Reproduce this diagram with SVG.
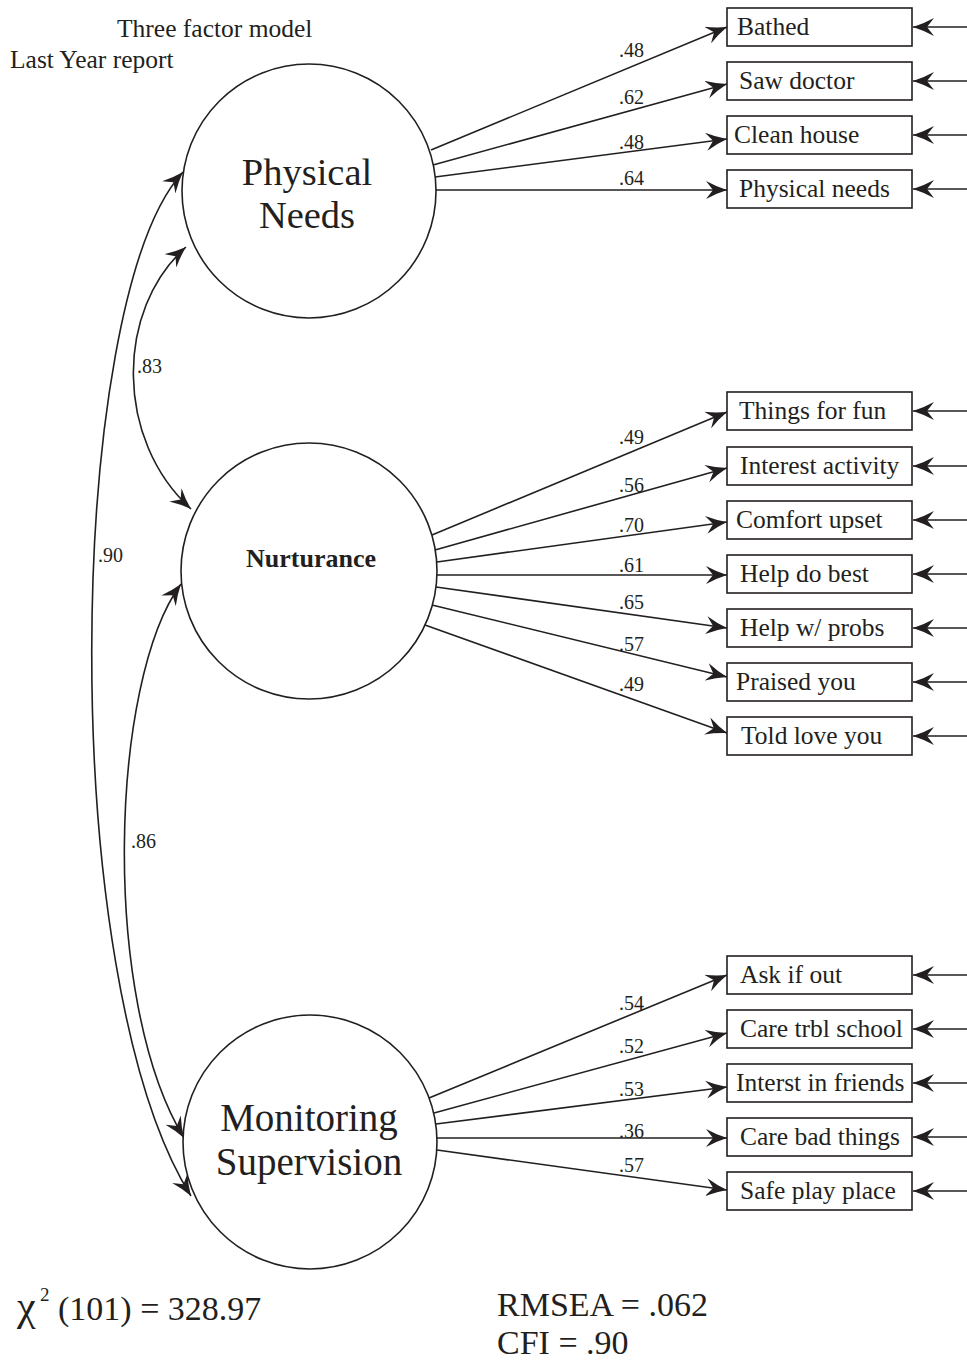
<svg xmlns="http://www.w3.org/2000/svg" width="967" height="1363" viewBox="0 0 967 1363">
<style>
text{font-family:"Liberation Serif","Times New Roman",serif;fill:#231f20}
.t{font-size:25.5px}
.lab{font-size:20px}
.big{font-size:38.5px}
.fit{font-size:34px}
.c{fill:#fff;stroke:#231f20;stroke-width:1.6}
.b{fill:#fff;stroke:#231f20;stroke-width:1.6}
.l{fill:none;stroke:#231f20;stroke-width:1.6;marker-end:url(#ah)}
.d{fill:none;stroke:#231f20;stroke-width:1.6;marker-start:url(#ah);marker-end:url(#ah)}
</style>
<defs>
<marker id="ah" viewBox="0 0 21 18" refX="21" refY="9" markerWidth="21" markerHeight="18" markerUnits="userSpaceOnUse" orient="auto-start-reverse">
<path d="M0,0 Q10,5.5 21,9 Q10,12.5 0,18 L7,9 Z" fill="#231f20"/>
</marker>
</defs>
<rect width="967" height="1363" fill="#fff"/>
<g id="title">
<text class="t" x="117" y="37">Three factor model</text>
<text class="t" x="10" y="68">Last Year report</text>
</g>
<g id="connectors">
<path class="l" d="M431,150 L727,27"/>
<path class="l" d="M433,165 L727,84"/>
<path class="l" d="M435,177 L727,139"/>
<path class="l" d="M436,190 L727,190"/>
<path class="l" d="M432,535 L727,412"/>
<path class="l" d="M435,550 L727,468"/>
<path class="l" d="M437,562 L727,522"/>
<path class="l" d="M437,575 L727,575"/>
<path class="l" d="M436,587 L727,628"/>
<path class="l" d="M432,605 L727,677"/>
<path class="l" d="M425,625 L727,733"/>
<path class="l" d="M429,1098 L727,975"/>
<path class="l" d="M434,1113 L727,1033"/>
<path class="l" d="M436,1124 L727,1087"/>
<path class="l" d="M437,1138 L727,1138"/>
<path class="l" d="M437,1150 L727,1190"/>
<path class="l" d="M967,27 L913,27"/>
<path class="l" d="M967,81 L913,81"/>
<path class="l" d="M967,135 L913,135"/>
<path class="l" d="M967,189 L913,189"/>
<path class="l" d="M967,411 L913,411"/>
<path class="l" d="M967,466 L913,466"/>
<path class="l" d="M967,520 L913,520"/>
<path class="l" d="M967,574 L913,574"/>
<path class="l" d="M967,628 L913,628"/>
<path class="l" d="M967,682 L913,682"/>
<path class="l" d="M967,736 L913,736"/>
<path class="l" d="M967,975 L913,975"/>
<path class="l" d="M967,1029 L913,1029"/>
<path class="l" d="M967,1083 L913,1083"/>
<path class="l" d="M967,1137 L913,1137"/>
<path class="l" d="M967,1191 L913,1191"/>
<path class="d" d="M183,172 C65,300 55,980 191,1196"/>
<path class="d" d="M186,247 C115,310 115,440 191,509"/>
<path class="d" d="M181,584 C110,680 100,1000 184,1138"/>
<text class="lab" x="619" y="57">.48</text>
<text class="lab" x="619" y="104">.62</text>
<text class="lab" x="619" y="149">.48</text>
<text class="lab" x="619" y="185">.64</text>
<text class="lab" x="619" y="444">.49</text>
<text class="lab" x="619" y="492">.56</text>
<text class="lab" x="619" y="532">.70</text>
<text class="lab" x="619" y="572">.61</text>
<text class="lab" x="619" y="609">.65</text>
<text class="lab" x="619" y="651">.57</text>
<text class="lab" x="619" y="691">.49</text>
<text class="lab" x="619" y="1010">.54</text>
<text class="lab" x="619" y="1053">.52</text>
<text class="lab" x="619" y="1096">.53</text>
<text class="lab" x="619" y="1138">.36</text>
<text class="lab" x="619" y="1172">.57</text>
<text class="lab" x="137" y="373">.83</text>
<text class="lab" x="98" y="562">.90</text>
<text class="lab" x="131" y="848">.86</text>
</g>
<g id="physical-needs">
<circle class="c" cx="309" cy="191" r="127"/>
<text class="big" x="307" y="185" text-anchor="middle">Physical</text>
<text class="big" x="307" y="228" text-anchor="middle">Needs</text>
</g>
<g id="nurturance">
<circle class="c" cx="309" cy="571" r="128"/>
<text x="311" y="567" text-anchor="middle" style="font-size:26px;font-weight:bold">Nurturance</text>
</g>
<g id="monitoring-supervision">
<circle class="c" cx="310" cy="1142" r="127"/>
<text x="309" y="1131" text-anchor="middle" style="font-size:39px">Monitoring</text>
<text x="309" y="1175" text-anchor="middle" style="font-size:39px">Supervision</text>
</g>
<g id="bathed"><rect class="b" x="727" y="8" width="185" height="38"/><text class="t" x="737" y="35">Bathed</text></g>
<g id="saw-doctor"><rect class="b" x="727" y="62" width="185" height="38"/><text class="t" x="739" y="89">Saw doctor</text></g>
<g id="clean-house"><rect class="b" x="727" y="116" width="185" height="38"/><text class="t" x="734" y="143">Clean house</text></g>
<g id="physical-needs-item"><rect class="b" x="727" y="170" width="185" height="38"/><text class="t" x="739" y="197">Physical needs</text></g>
<g id="things-for-fun"><rect class="b" x="727" y="392" width="185" height="38"/><text class="t" x="739" y="419">Things for fun</text></g>
<g id="interest-activity"><rect class="b" x="727" y="447" width="185" height="38"/><text class="t" x="740" y="474">Interest activity</text></g>
<g id="comfort-upset"><rect class="b" x="727" y="501" width="185" height="38"/><text class="t" x="736" y="528">Comfort upset</text></g>
<g id="help-do-best"><rect class="b" x="727" y="555" width="185" height="38"/><text class="t" x="740" y="582">Help do best</text></g>
<g id="help-w-probs"><rect class="b" x="727" y="609" width="185" height="38"/><text class="t" x="740" y="636">Help w/ probs</text></g>
<g id="praised-you"><rect class="b" x="727" y="663" width="185" height="38"/><text class="t" x="736" y="690">Praised you</text></g>
<g id="told-love-you"><rect class="b" x="727" y="717" width="185" height="38"/><text class="t" x="741" y="744">Told love you</text></g>
<g id="ask-if-out"><rect class="b" x="727" y="956" width="185" height="38"/><text class="t" x="740" y="983">Ask if out</text></g>
<g id="care-trbl-school"><rect class="b" x="727" y="1010" width="185" height="38"/><text class="t" x="740" y="1037">Care trbl school</text></g>
<g id="interst-in-friends"><rect class="b" x="727" y="1064" width="185" height="38"/><text class="t" x="736" y="1091">Interst in friends</text></g>
<g id="care-bad-things"><rect class="b" x="727" y="1118" width="185" height="38"/><text class="t" x="740" y="1145">Care bad things</text></g>
<g id="safe-play-place"><rect class="b" x="727" y="1172" width="185" height="38"/><text class="t" x="740" y="1199">Safe play place</text></g>
<g id="fit-stats">
<text x="17" y="1320" style="font-size:42px">χ</text>
<text x="40" y="1301" style="font-size:19px">2</text>
<text class="fit" x="58" y="1320">(101) = 328.97</text>
<text class="fit" x="497" y="1316">RMSEA = .062</text>
<text class="fit" x="497" y="1354">CFI = .90</text>
</g>
</svg>
